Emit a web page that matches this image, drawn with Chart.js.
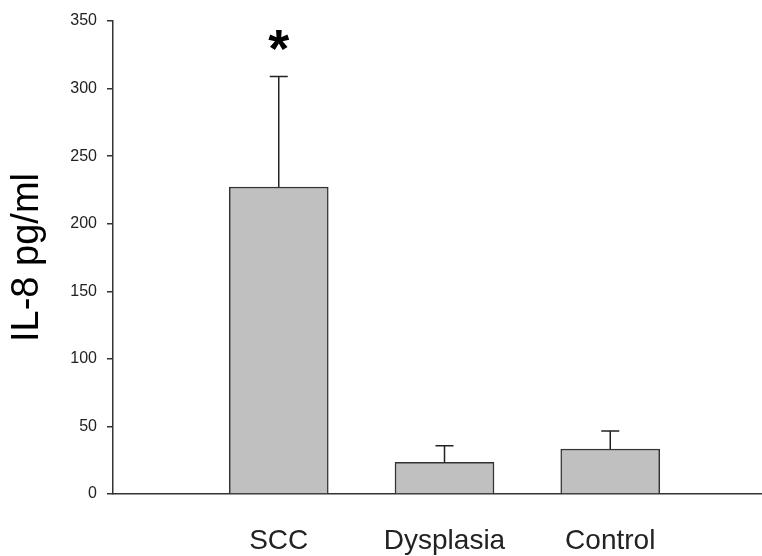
<!DOCTYPE html>
<html>
<head>
<meta charset="utf-8">
<script src="https://cdn.jsdelivr.net/npm/chart.js@4.4.1/dist/chart.umd.min.js"></script>
<style>
  html, body { margin: 0; padding: 0; background: #fff; overflow: hidden; }
  #wrap { width: 762px; height: 556px; overflow: hidden; }
</style>
</head>
<body>
<div id="wrap"><canvas id="chart" width="798" height="556"></canvas></div>
<script>
// data
const categories = ["", "SCC", "Dysplasia", "Control", ""];
const means      = [null, 227.2, 23.5, 33.3, null];
const errors     = [null, 81.7, 12.2, 13.3, null];
const marks      = ["", "*", "", "", ""];
const yTicks     = [0, 50, 100, 150, 200, 250, 300, 350];

const FONT = "'Liberation Sans', Arial, sans-serif";
const INK = "#222";

// One-sided (upper) error bars plus the significance star.
const errorBars = {
  id: "errorBars",
  afterDatasetsDraw(chart) {
    const { ctx, scales: { x, y } } = chart;
    ctx.save();
    ctx.strokeStyle = INK;
    ctx.lineWidth = 1.5;
    means.forEach((m, i) => {
      if (m == null) return;
      const cx = x.getPixelForValue(i);
      const y0 = y.getPixelForValue(m);
      const y1 = y.getPixelForValue(m + errors[i]);
      ctx.beginPath();
      ctx.moveTo(cx, y0);
      ctx.lineTo(cx, y1);
      ctx.moveTo(cx - 9, y1);
      ctx.lineTo(cx + 9, y1);
      ctx.stroke();
      if (marks[i]) {
        ctx.fillStyle = "#000";
        ctx.font = "bold 54px " + FONT;
        ctx.textAlign = "center";
        ctx.textBaseline = "alphabetic";
        ctx.fillText(marks[i], cx, y1 - 10);
      }
    });
    ctx.restore();
  },
};

new Chart(document.getElementById("chart").getContext("2d"), {
  type: "bar",
  data: {
    labels: categories,
    datasets: [{
      data: means,
      backgroundColor: "#c0c0c0",
      borderColor: "#333",
      borderWidth: 1.5,
      barThickness: 99,
    }],
  },
  options: {
    responsive: false,
    animation: false,
    layout: { padding: { top: 21, left: 0, right: 0, bottom: 0 } },
    plugins: { legend: { display: false }, tooltip: { enabled: false } },
    scales: {
      x: {
        offset: false,
        grid: { display: false },
        border: { display: true, color: "#333", width: 1.5 },
        ticks: {
          color: INK,
          font: { size: 28, family: FONT },
          padding: 22,
          maxRotation: 0,
          autoSkip: false,
        },
        afterFit: (s) => { s.height = 62; },
      },
      y: {
        min: 0,
        max: 350,
        afterBuildTicks: (s) => { s.ticks = yTicks.map((v) => ({ value: v })); },
        grid: { drawOnChartArea: false, drawTicks: true, tickLength: 6, color: "#333", lineWidth: 1.5 },
        border: { display: true, color: "#333", width: 1.5 },
        ticks: {
          color: INK,
          font: { size: 16, family: FONT },
          padding: 10,
        },
        title: {
          display: true,
          text: "IL-8 pg/ml",
          color: "#000",
          font: { size: 38, family: FONT },
          padding: { top: 5, bottom: 0 },
        },
        afterFit: (s) => { s.width = 113; },
      },
    },
  },
  plugins: [errorBars],
});
</script>
</body>
</html>
